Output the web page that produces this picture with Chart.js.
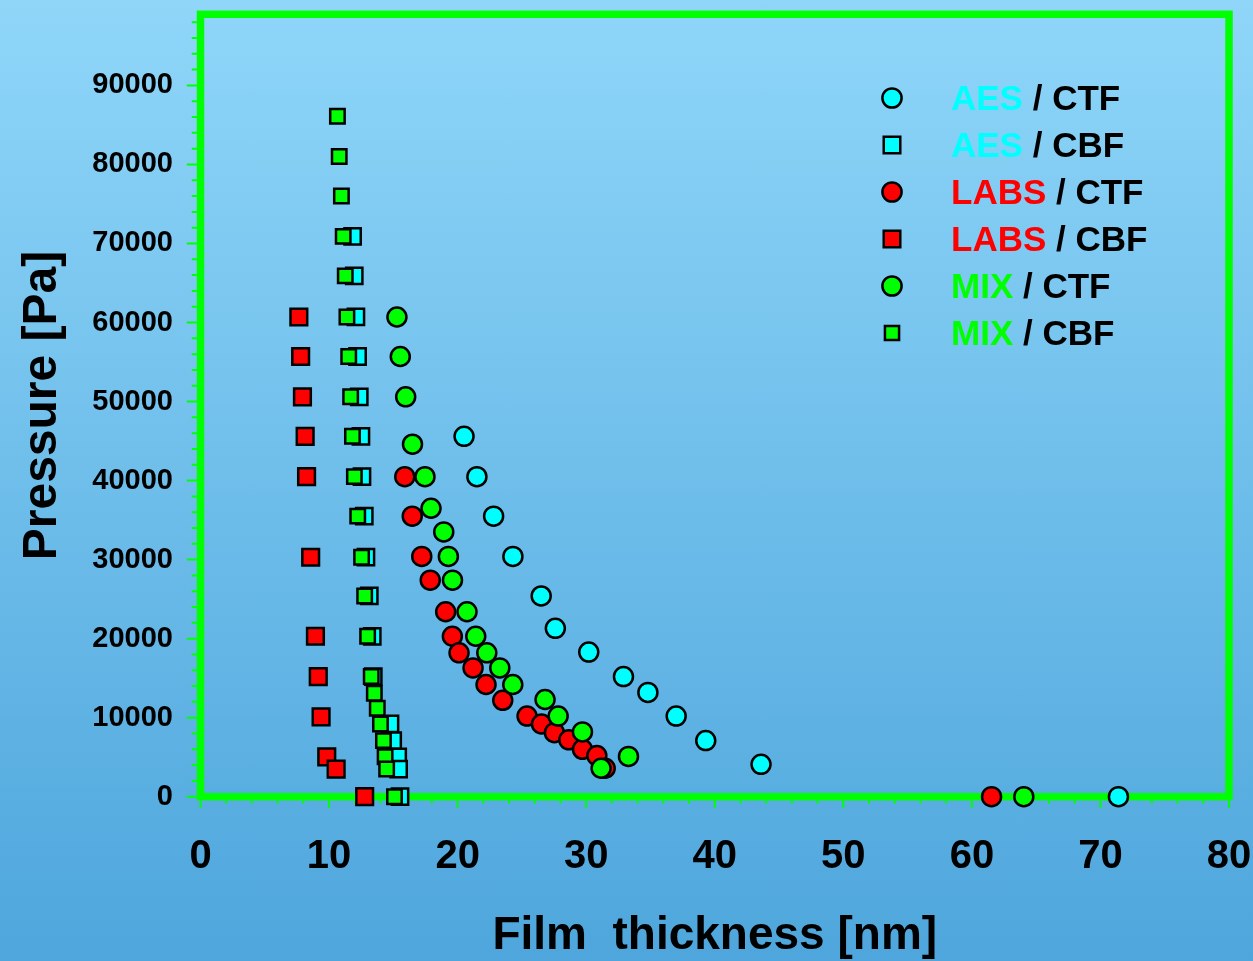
<!DOCTYPE html>
<html>
<head>
<meta charset="utf-8">
<script src="https://cdn.jsdelivr.net/npm/chart.js@4.4.1/dist/chart.umd.min.js"></script>
<style>
  html, body { margin: 0; padding: 0; }
  body { width: 1253px; height: 961px; overflow: hidden;
         background: linear-gradient(to bottom, #8fd6f9 0%, #4ea6dc 100%); }
  canvas { display: block; }
</style>
</head>
<body>
<canvas id="chart" width="1253" height="961"></canvas>
<script>
// film thickness [nm] vs disjoining pressure [Pa]
const aesCtfThickness = [20.5, 21.5, 22.8, 24.3, 26.5, 27.6, 30.2, 32.9, 34.8, 37.0, 39.3, 43.6, 71.4];
const aesCtfPressure  = [45600, 40500, 35500, 30400, 25400, 21300, 18300, 15200, 13200, 10200, 7100, 4100, 0];

const aesCbfThickness = [11.83, 11.96, 12.09, 12.22, 12.35, 12.48, 12.56, 12.74, 12.87, 13.13, 13.36, 13.44, 14.74, 14.95, 15.34, 15.41, 15.52];
const aesCbfPressure  = [70900, 65900, 60700, 55700, 50600, 45600, 40500, 35500, 30300, 25400, 20300, 15200, 9200, 7100, 5050, 3500, 0];

const labsCtfThickness = [15.89, 16.47, 17.21, 17.87, 19.07, 19.59, 20.11, 21.2, 22.21, 23.51, 25.4, 26.52, 27.53, 28.65, 29.71, 30.83, 31.48, 61.53];
const labsCtfPressure  = [40500, 35500, 30400, 27400, 23400, 20300, 18200, 16300, 14200, 12200, 10200, 9200, 8100, 7200, 6000, 5200, 3600, 0];

const labsCbfThickness = [7.65, 7.79, 7.93, 8.14, 8.25, 8.57, 8.94, 9.16, 9.38, 9.82, 10.55, 12.77];
const labsCbfPressure  = [60700, 55700, 50600, 45600, 40500, 30300, 20300, 15200, 10100, 5050, 3500, 0];

const mixCtfThickness = [15.28, 15.54, 15.96, 16.49, 17.46, 17.93, 18.92, 19.28, 19.6, 20.73, 21.41, 22.27, 23.28, 24.29, 26.8, 27.82, 29.71, 31.16, 33.29, 64.04];
const mixCtfPressure  = [60700, 55700, 50600, 44600, 40500, 36500, 33500, 30400, 27400, 23400, 20300, 18200, 16300, 14200, 12300, 10200, 8200, 3600, 5100, 0];

const mixCbfThickness = [10.65, 10.79, 10.96, 11.1, 11.26, 11.39, 11.53, 11.68, 11.82, 11.97, 12.23, 12.53, 12.77, 13.0, 13.28, 13.52, 13.75, 14.0, 14.23, 14.36, 14.48, 15.09];
const mixCbfPressure  = [86100, 81000, 76000, 70900, 65900, 60700, 55700, 50600, 45600, 40500, 35500, 30300, 25400, 20300, 15200, 13100, 11200, 9200, 7100, 5050, 3500, 0];

const surfactants = ["AES", "LABS", "MIX"];
const films = ["CTF", "CBF"];

const xTicks = [0, 10, 20, 30, 40, 50, 60, 70, 80];
const yTicks = [0, 10000, 20000, 30000, 40000, 50000, 60000, 70000, 80000, 90000];

const CYAN = "#00ffff", RED = "#ff0000", GREEN = "#00ff00";
const FONT = "'Liberation Sans', Arial, sans-serif";

function pts(xs, ys) {
  return xs.map((x, i) => ({ x: x, y: ys[i] }));
}

function series(label, xs, ys, color, style, radius, order) {
  return {
    label: label,
    data: pts(xs, ys),
    pointStyle: style,
    pointRadius: radius,
    pointBackgroundColor: color,
    pointBorderColor: "#000",
    pointBorderWidth: 2.5,
    showLine: false,
    clip: false,
    order: order
  };
}

const datasets = [
  series("AES / CTF", aesCtfThickness, aesCtfPressure, CYAN, "circle", 9.5, 6),
  series("AES / CBF", aesCbfThickness, aesCbfPressure, CYAN, "rect", 11.5, 5),
  series("LABS / CTF", labsCtfThickness, labsCtfPressure, RED, "circle", 9.5, 4),
  series("LABS / CBF", labsCbfThickness, labsCbfPressure, RED, "rect", 11.8, 3),
  series("MIX / CTF", mixCtfThickness, mixCtfPressure, GREEN, "circle", 9.5, 2),
  series("MIX / CBF", mixCbfThickness, mixCbfPressure, GREEN, "rect", 10.2, 1)
];
const legendColors = [CYAN, CYAN, RED, RED, GREEN, GREEN];
const legendRadius = [9.6, 11.7, 9.6, 11.7, 9.6, 10];

// green box + outside ticks
const frame = {
  id: "frame",
  beforeDatasetsDraw(chart) {
    const { ctx, chartArea: a, scales: { x, y } } = chart;
    ctx.save();
    ctx.strokeStyle = GREEN;
    ctx.lineWidth = 7.5;
    ctx.strokeRect(a.left, a.top, a.right - a.left, a.bottom - a.top);
    ctx.lineWidth = 2;
    ctx.beginPath();
    for (let v = 0; v <= 98000; v += 2000) {
      const py = y.getPixelForValue(v);
      const len = v % 10000 === 0 ? 10 : 5;
      ctx.moveTo(a.left - 3.7 - len, py);
      ctx.lineTo(a.left - 3.7, py);
    }
    for (let v = 0; v <= 80; v += 2) {
      const px = x.getPixelForValue(v);
      const len = v % 10 === 0 ? 7.6 : 3.4;
      ctx.moveTo(px, a.bottom + 3.7);
      ctx.lineTo(px, a.bottom + 3.7 + len);
    }
    ctx.stroke();
    ctx.restore();
  }
};

// legend with coloured surfactant names
const colorLegend = {
  id: "colorLegend",
  afterDraw(chart) {
    const ctx = chart.ctx;
    ctx.save();
    ctx.font = "bold 35px " + FONT;
    ctx.textBaseline = "middle";
    let i = 0;
    surfactants.forEach((s) => {
      films.forEach((f) => {
        const ds = chart.data.datasets[i];
        const yy = 98 + i * 47;
        ctx.fillStyle = legendColors[i];
        ctx.strokeStyle = "#000";
        ctx.lineWidth = 2.5;
        Chart.helpers.drawPoint(ctx, { pointStyle: ds.pointStyle, radius: legendRadius[i], rotation: 0, borderWidth: 2.5 }, 892, yy);
        ctx.textAlign = "left";
        ctx.fillText(s, 951, yy + 2);
        const w = ctx.measureText(s).width;
        ctx.fillStyle = "#000";
        ctx.fillText(" / " + f, 951 + w, yy + 2);
        i++;
      });
    });
    ctx.restore();
  }
};

new Chart(document.getElementById("chart"), {
  type: "scatter",
  data: { datasets: datasets },
  options: {
    responsive: false,
    animation: false,
    devicePixelRatio: 1,
    events: [],
    layout: { padding: { left: 0, top: 13, right: 24, bottom: 0 } },
    plugins: { legend: { display: false }, tooltip: { enabled: false } },
    scales: {
      x: {
        type: "linear",
        min: 0,
        max: 80,
        grid: { display: false, drawTicks: false },
        border: { display: false },
        ticks: { autoSkip: false, maxRotation: 0, padding: 36, color: "#000",
                 font: { family: FONT, size: 40, weight: "bold" } },
        afterBuildTicks(s) { s.ticks = xTicks.map((v) => ({ value: v })); },
        title: { display: true, text: "Film  thickness [nm]", color: "#000", padding: { top: 0, bottom: -3 },
                 font: { family: FONT, size: 46, weight: "bold" } },
        afterFit(s) { s.height = 164.3; s.paddingLeft = 0; s.paddingRight = 0; }
      },
      y: {
        type: "linear",
        min: 0,
        max: 99000,
        grid: { display: false, drawTicks: false },
        border: { display: false },
        ticks: {
          autoSkip: false, padding: 27.5, color: "#000",
          font: { family: FONT, size: 29, weight: "bold" },
          callback: (v) => String(v)
        },
        afterBuildTicks(s) { s.ticks = yTicks.map((v) => ({ value: v })); },
        title: { display: true, text: "Pressure [Pa]", color: "#000", padding: { top: 14, bottom: 0 },
                 font: { family: FONT, size: 48, weight: "bold" } },
        afterFit(s) { s.width = 200.5; s.paddingTop = 0; s.paddingBottom = 0; }
      }
    }
  },
  plugins: [frame, colorLegend]
});
</script>
</body>
</html>
